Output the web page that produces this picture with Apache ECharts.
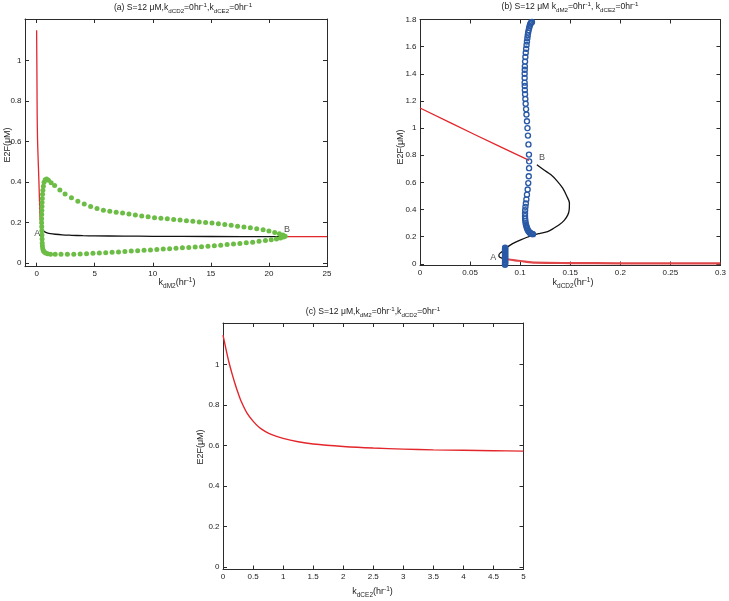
<!DOCTYPE html>
<html><head><meta charset="utf-8">
<script src="https://cdn.jsdelivr.net/npm/echarts@6/dist/echarts.min.js"></script>
<style>html,body{margin:0;padding:0;background:#fff}#c{width:729px;height:601px}</style>
</head><body><div id="c"></div>
<script>
// ---------- Panel (a) data: E2F vs k_dM2 ----------
var redA1 = [[0,1.15],[0.01,1.07],[0.02,0.99],[0.03,0.9],[0.04,0.8],[0.05,0.72],[0.08,0.61],[0.11,0.55],[0.14,0.5],[0.17,0.45],[0.2,0.4],[0.23,0.34],[0.26,0.29],[0.29,0.235],[0.33,0.205],[0.4,0.19]];
var redA2 = [[21.4,0.131],[25,0.131]];
var blackA = [[0.45,0.17],[0.55,0.162],[0.7,0.155],[0.9,0.15],[1.2,0.146],[1.6,0.143],[2.2,0.14],[3,0.138],[4,0.136],[5,0.135],[7.5,0.134],[10,0.133],[15,0.132],[21.3,0.131]];
var greenUpperA = [[0.43,0.20],[0.43,0.22],[0.44,0.24],[0.45,0.26],[0.46,0.28],[0.47,0.30],[0.49,0.32],[0.51,0.34],[0.54,0.36],[0.58,0.38],[0.64,0.40],[0.74,0.412],[0.86,0.416],[1.02,0.41],[1.25,0.397],[1.55,0.383],[2.0,0.362],[2.45,0.342],[3.0,0.323],[3.55,0.306],[4.1,0.292],[4.65,0.28],[5.2,0.27],[5.75,0.262],[6.3,0.256],[6.85,0.252],[7.4,0.248],[7.95,0.243],[8.5,0.238],[9.05,0.233],[9.6,0.229],[10.15,0.225],[10.7,0.222],[11.25,0.219],[11.8,0.216],[12.35,0.213],[12.9,0.21],[13.45,0.207],[14.0,0.204],[14.55,0.201],[15.1,0.198],[15.65,0.195],[16.2,0.191],[16.75,0.187],[17.3,0.183],[17.85,0.179],[18.4,0.175],[18.95,0.17],[19.5,0.165],[20.0,0.159],[20.5,0.152],[20.9,0.145],[21.2,0.139],[21.4,0.133]];
var greenLowerA = [[0.44,0.18],[0.45,0.16],[0.46,0.14],[0.47,0.12],[0.48,0.10],[0.50,0.085],[0.53,0.072],[0.58,0.062],[0.66,0.055],[0.78,0.05],[0.95,0.047],[1.2,0.045],[1.6,0.044],[2.1,0.044],[2.65,0.044],[3.2,0.045],[3.75,0.046],[4.3,0.047],[4.85,0.049],[5.4,0.05],[5.95,0.052],[6.5,0.054],[7.05,0.056],[7.6,0.058],[8.15,0.06],[8.7,0.062],[9.25,0.064],[9.8,0.066],[10.35,0.068],[10.9,0.07],[11.45,0.072],[12.0,0.074],[12.55,0.076],[13.1,0.078],[13.65,0.08],[14.2,0.082],[14.75,0.084],[15.3,0.086],[15.85,0.089],[16.4,0.092],[16.95,0.095],[17.5,0.098],[18.05,0.101],[18.6,0.104],[19.15,0.108],[19.7,0.112],[20.2,0.116],[20.65,0.12],[21.0,0.125],[21.25,0.13]];
var pointLabelsA = [['A',0.05,0.148],['B',21.55,0.164]];
var xTicksA = [0,5,10,15,20,25];
var yTicksA = [0,0.2,0.4,0.6,0.8,1];

// ---------- Panel (b) data: E2F vs k_dCD2 ----------
var redB1 = [[0,1.148],[0.054,0.955],[0.109,0.762]];
var redB2 = [[0.085,0.036],[0.095,0.026],[0.105,0.016],[0.115,0.009],[0.15,0.006],[0.2,0.004],[0.3,0.003]];
var blackB = [[0.1167,0.73],[0.1235,0.693],[0.1308,0.656],[0.137,0.61],[0.1425,0.558],[0.1465,0.5],[0.1492,0.448],[0.149,0.4],[0.1476,0.361],[0.144,0.32],[0.139,0.288],[0.1335,0.262],[0.1274,0.238],[0.12,0.225],[0.114,0.214],[0.107,0.196],[0.1006,0.177],[0.095,0.158],[0.0905,0.14],[0.0875,0.124],[0.0855,0.108],[0.083,0.095],[0.08,0.079],[0.0788,0.065],[0.079,0.054],[0.081,0.044],[0.085,0.036]];
var blueUpperB = [[0.1118,1.782],[0.1112,1.778],[0.1105,1.772],[0.1100,1.764],[0.1095,1.752],[0.1090,1.738],[0.1085,1.722],[0.1080,1.704],[0.1076,1.684],[0.1072,1.662],[0.1068,1.638],[0.1064,1.612],[0.1060,1.584],[0.1056,1.555],[0.1052,1.524],[0.1049,1.49],[0.1047,1.455],[0.1046,1.43],[0.1045,1.40],[0.1045,1.37],[0.1045,1.335],[0.1046,1.31],[0.1047,1.28],[0.1049,1.25],[0.1052,1.215],[0.1055,1.18],[0.1059,1.14],[0.1063,1.1],[0.1068,1.05],[0.1073,1.0],[0.1078,0.945],[0.1083,0.88],[0.1088,0.805],[0.1090,0.755],[0.1089,0.705],[0.1086,0.645],[0.1081,0.595],[0.1075,0.548],[0.1068,0.51],[0.1062,0.475],[0.1057,0.445],[0.1053,0.42],[0.1050,0.395],[0.1049,0.372],[0.1049,0.352],[0.1050,0.333],[0.1052,0.316],[0.1055,0.3],[0.1059,0.286],[0.1064,0.273],[0.1069,0.262],[0.1075,0.252],[0.1082,0.243],[0.1089,0.236],[0.1096,0.23],[0.1104,0.225],[0.1112,0.222],[0.1120,0.220],[0.1128,0.219]];
var blueColumnB = [[0.0849,-0.006],[0.0849,0.0],[0.085,0.006],[0.085,0.012],[0.0849,0.018],[0.085,0.024],[0.085,0.03],[0.0849,0.036],[0.085,0.042],[0.085,0.048],[0.0849,0.054],[0.085,0.06],[0.085,0.066],[0.0849,0.072],[0.085,0.078],[0.085,0.084],[0.0849,0.09],[0.085,0.096],[0.085,0.102],[0.0849,0.108],[0.085,0.114],[0.085,0.119]];
var pointLabelsB = [['A',0.0731,0.046],['B',0.1217,0.78]];
var xTicksB = [0,0.05,0.1,0.15,0.2,0.25,0.3];
var yTicksB = [0,0.2,0.4,0.6,0.8,1,1.2,1.4,1.6,1.8];

// ---------- Panel (c) data: E2F vs k_dCE2 ----------
var redC = [[0,1.145],[0.05,1.075],[0.1,1.01],[0.15,0.955],[0.2,0.905],[0.25,0.86],[0.3,0.82],[0.4,0.76],[0.5,0.72],[0.6,0.69],[0.7,0.67],[0.8,0.655],[1.0,0.635],[1.25,0.618],[1.5,0.607],[2,0.595],[2.5,0.587],[3,0.582],[3.5,0.578],[4,0.576],[4.5,0.574],[5,0.572]];
var xTicksC = [0,0.5,1,1.5,2,2.5,3,3.5,4,4.5,5];
var yTicksC = [0,0.2,0.4,0.6,0.8,1];

// ---------- styling / layout ----------
var FF = 'Liberation Sans, Arial, Helvetica, sans-serif';
var AX = '#2b2b2b';
var RED = '#e3262b', BLACK = '#111111', GREEN = '#6cbd45', BLUE = '#2a5aa6';

function axis(gi, min, max, ticks, pos, labels, isY) {
  return {
    type: 'value', gridIndex: gi, min: min, max: max, position: pos,
    axisLine: { show: true, onZero: false, lineStyle: { color: AX, width: 1 } },
    axisTick: { show: true, inside: true, length: 4, customValues: ticks, lineStyle: { color: AX, width: 1 } },
    axisLabel: { show: labels, customValues: ticks, fontSize: 8, fontFamily: FF, color: '#222', margin: isY ? 3.5 : 3 },
    splitLine: { show: false }
  };
}

var rich = {
  n: { fontSize: 8.6, fontFamily: FF, lineHeight: 12, fill: '#222', color: '#222' },
  s: { fontSize: 6.2, fontFamily: FF, lineHeight: 6, verticalAlign: 'bottom', fill: '#222', color: '#222' },
  p: { fontSize: 6.2, fontFamily: FF, lineHeight: 6, verticalAlign: 'top', fill: '#222', color: '#222' }
};
var rich9 = {
  n: { fontSize: 9, fontFamily: FF, lineHeight: 13, fill: '#222', color: '#222' },
  s: { fontSize: 6.5, fontFamily: FF, lineHeight: 6, verticalAlign: 'bottom', fill: '#222', color: '#222' },
  p: { fontSize: 6.5, fontFamily: FF, lineHeight: 6, verticalAlign: 'top', fill: '#222', color: '#222' }
};
function txt(x, y, text, r, rot) {
  return { type: 'text', x: x, y: y, rotation: rot || 0, silent: true,
    style: { text: text, rich: r, align: 'center', verticalAlign: 'middle', fontSize: 9, fontFamily: FF, fill: '#222' } };
}

function lineS(data, xi, color, w) {
  return { type: 'line', xAxisIndex: xi, yAxisIndex: xi, data: data, showSymbol: false, symbol: 'none',
    smooth: 0.3, lineStyle: { color: color, width: w }, silent: true, animation: false, z: 2 };
}
function labelS(arr, xi) {
  return { type: 'scatter', xAxisIndex: xi, yAxisIndex: xi, symbolSize: 0, silent: true, z: 5,
    data: arr.map(function (d) { return { name: d[0], value: [d[1], d[2]] }; }),
    label: { show: true, position: 'inside', formatter: '{b}', fontSize: 9, fontFamily: FF, color: '#222' } };
}

var option = {
  animation: false,
  backgroundColor: '#fff',
  grid: [
    { left: 25, top: 19, width: 302, height: 247.7 },
    { left: 420, top: 19.5, width: 302, height: 246 },
    { left: 223, top: 323, width: 300.5, height: 246.5 }
  ],
  xAxis: [
    axis(0, -1, 25, xTicksA, 'bottom', true), axis(0, -1, 25, xTicksA, 'top', false),
    axis(1, 0, 0.3, xTicksB, 'bottom', true), axis(1, 0, 0.3, xTicksB, 'top', false),
    axis(2, 0, 5, xTicksC, 'bottom', true), axis(2, 0, 5, xTicksC, 'top', false)
  ],
  yAxis: [
    axis(0, -0.017, 1.205, yTicksA, 'left', true, true), axis(0, -0.017, 1.205, yTicksA, 'right', false, true),
    axis(1, -0.012, 1.8, yTicksB, 'left', true, true), axis(1, -0.012, 1.8, yTicksB, 'right', false, true),
    axis(2, -0.013, 1.205, yTicksC, 'left', true, true), axis(2, -0.013, 1.205, yTicksC, 'right', false, true)
  ],
  series: [
    lineS(redA1, 0, RED, 1.3), lineS(redA2, 0, RED, 1.3), lineS(blackA, 0, BLACK, 1.3),
    { type: 'scatter', xAxisIndex: 0, yAxisIndex: 0, data: greenUpperA, symbol: 'circle', symbolSize: 5, itemStyle: { color: GREEN, opacity: 1 }, silent: true, z: 3 },
    { type: 'scatter', xAxisIndex: 0, yAxisIndex: 0, data: greenLowerA, symbol: 'circle', symbolSize: 5, itemStyle: { color: GREEN, opacity: 1 }, silent: true, z: 3 },
    labelS(pointLabelsA, 0),

    lineS(redB1, 2, RED, 1.3), lineS(redB2, 2, '#e0474b', 2.2), lineS(blackB, 2, BLACK, 1.3),
    { type: 'scatter', xAxisIndex: 2, yAxisIndex: 2, data: blueUpperB, symbol: 'circle', symbolSize: 5, itemStyle: { color: 'rgba(0,0,0,0)', borderColor: BLUE, borderWidth: 1.4, opacity: 1 }, silent: true, z: 3 },
    { type: 'scatter', xAxisIndex: 2, yAxisIndex: 2, data: blueColumnB, symbol: 'circle', symbolSize: 5, itemStyle: { color: 'rgba(0,0,0,0)', borderColor: BLUE, borderWidth: 1.4, opacity: 1 }, silent: true, z: 3 },
    labelS(pointLabelsB, 2),

    lineS(redC, 4, RED, 1.4)
  ],
  graphic: [
    txt(183, 8, '{n|(a) S=12 \u03bcM,k}{s|dCD2}{n|=0hr}{p|-1}{n|,k}{s|dCE2}{n|=0hr}{p|-1}', rich),
    txt(570, 7, '{n|(b) S=12 \u03bcM k}{s|dM2}{n|=0hr}{p|-1}{n|, k}{s|dCE2}{n|=0hr}{p|-1}', rich),
    txt(373, 312, '{n|(c) S=12 \u03bcM,k}{s|dM2}{n|=0hr}{p|-1}{n|,k}{s|dCD2}{n|=0hr}{p|-1}', rich),
    txt(177, 283, '{n|k}{s|dM2}{n|(hr}{p|-1}{n|)}', rich9),
    txt(573, 283, '{n|k}{s|dCD2}{n|(hr}{p|-1}{n|)}', rich9),
    txt(372.5, 592, '{n|k}{s|dCE2}{n|(hr}{p|-1}{n|)}', rich9),
    txt(7.5, 145, 'E2F(\u03bcM)', null, Math.PI / 2),
    txt(401, 147, 'E2F(\u03bcM)', null, Math.PI / 2),
    txt(200.5, 447, 'E2F(\u03bcM)', null, Math.PI / 2)
  ]
};
var chart = echarts.init(document.getElementById('c'), null, { renderer: 'canvas' });
chart.setOption(option);
</script></body></html>
